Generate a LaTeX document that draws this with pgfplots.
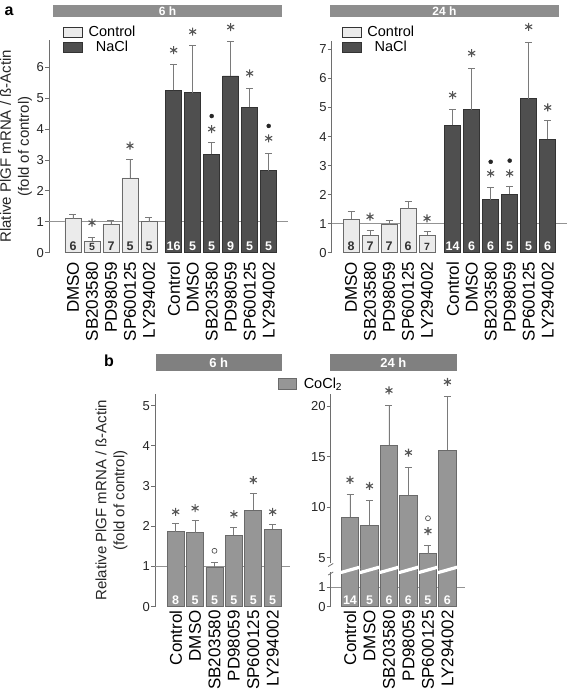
\documentclass[border=0pt]{standalone}
\usepackage{pgfplots}
\pgfplotsset{compat=1.18}
\usepackage{fontspec}
\setmainfont{Liberation Sans}
\definecolor{ctrl}{HTML}{EBEBEB}
\definecolor{ctrlb}{HTML}{6A6A6A}
\definecolor{nacl}{HTML}{4F4F4F}
\definecolor{naclb}{HTML}{333333}
\definecolor{cocl}{HTML}{969696}
\definecolor{coclb}{HTML}{6A6A6A}
\definecolor{hdra}{HTML}{8E8E8E}
\definecolor{hdrb}{HTML}{808080}
\definecolor{axc}{HTML}{6E6E6E}
\definecolor{errc}{HTML}{7A7A7A}
\definecolor{astc}{HTML}{555555}
\newcommand{\fs}[1]{\fontsize{#1}{#1}\selectfont}
\pgfplotsset{
  base/.style={
    scale only axis, clip=false, anchor=south west,
    axis lines*=left,
    x axis line style={draw=none},
    y axis line style={draw=axc, line width=0.8pt},
    xtick style={draw=none},
    ytick style={draw=axc, line width=0.8pt},
    ytick align=outside, major tick length=4pt,
    /pgf/number format/assume math mode=true,
    yticklabel style={font=\fs{13}, text=black!85, inner sep=1pt},
    xticklabel style={font=\fs{17}, rotate=90, anchor=east, inner sep=0pt, text=black},
    xticklabel shift=9pt,
    ymin=0,
    ylabel style={anchor=center, align=center, font=\fontsize{15}{18}\selectfont, text=black!85},
    legend style={draw=none, fill=none, anchor=north west, font=\fs{14.5}, inner sep=0pt,
      row sep=2pt, nodes={inner ysep=0.5pt, inner xsep=1pt}},
  },
  refline/.style={draw=gray!85, line width=0.8pt, forget plot},
  bars/.style={ybar, bar shift=0pt, forget plot, line width=0.7pt,
    error bars/y dir=plus, error bars/y explicit,
    error bars/error bar style={errc, line width=0.8pt},
    error bars/error mark options={rotate=90, errc, mark size=3.5pt, line width=0.8pt}},
  asts/.style={only marks, mark=asterisk, mark size=4pt, astc, mark options={line width=1.1pt}, forget plot},
  dots/.style={only marks, mark=*, mark size=2pt, black!85, forget plot},
  circs/.style={only marks, mark=o, mark size=2.5pt, astc, mark options={line width=0.7pt}, forget plot},
  nlab/.style={draw=none, mark=none, forget plot, point meta=explicit symbolic, nodes near coords,
    every node near coord/.append style={font=\bfseries\fs{12.5}, anchor=south, yshift=1.5pt, inner sep=0pt, text=#1}},
  nlabs/.style={draw=none, mark=none, forget plot, point meta=explicit symbolic, nodes near coords,
    every node near coord/.append style={font=\bfseries\fs{10.5}, anchor=south, yshift=1.5pt, inner sep=0pt, text=#1}},
}
\begin{document}
\begin{tikzpicture}[x=1pt,y=1pt]
\path[use as bounding box] (0pt,0pt) rectangle (567pt,694pt);
% headers
\fill[hdra] (53pt,677pt) rectangle (282pt,689pt);
\node[text=white, font=\bfseries\fs{12}] at (167.5pt,683pt) {6 h};
\fill[hdra] (330pt,677pt) rectangle (559pt,689pt);
\node[text=white, font=\bfseries\fs{12}] at (444.5pt,683pt) {24 h};
\fill[hdrb] (155.7pt,323.3pt) rectangle (281.7pt,340pt);
\node[text=white, font=\bfseries\fs{13}] at (218.7pt,331.6pt) {6 h};
\fill[hdrb] (330pt,323.3pt) rectangle (456.7pt,340pt);
\node[text=white, font=\bfseries\fs{13}] at (393.3pt,331.6pt) {24 h};
\node[font=\bfseries\fs{16}] at (9pt,683pt) {a};
\node[font=\bfseries\fs{16}] at (109pt,333pt) {b};

% ---------------- panel a, 6 h
\begin{axis}[base, at={(49pt,441.3pt)}, width=239pt, height=212.7pt,
  xmin=-1.263, xmax=11.316, ymax=6.88, ytick={0,1,2,3,4,5,6},
  xtick={0,1,2,3,4,5.3,6.3,7.3,8.3,9.3,10.3},
  xticklabels={DMSO,SB203580,PD98059,SP600125,LY294002,Control,DMSO,SB203580,PD98059,SP600125,LY294002},
  ylabel={Rlative PlGF mRNA / ß-Actin\\(fold of control)},
  ylabel style={at={(axis description cs:-0.138,0.5)}},
  legend style={at={(0.0586,1.07)}},
]
\addlegendimage{legend image code/.code={\draw[fill=ctrl,draw=black!80,line width=0.6pt] (0pt,-5pt) rectangle (19pt,5pt); \path (24pt,0pt);}}
\addlegendentry{Control}
\addlegendimage{legend image code/.code={\draw[fill=nacl,draw=black!80,line width=0.6pt] (0pt,-5pt) rectangle (19pt,5pt); \path (24pt,0pt);}}
\addlegendentry{NaCl}
\addplot[refline] coordinates {(-1.263,1) (11.316,1)};
\addplot[bars, fill=ctrl, draw=ctrlb, bar width=16pt] table[x=x, y=y, y error=e] {
x y e
0 1.10 0.13
1 0.38 0.12
2 0.93 0.12
3 2.42 0.61
4 1.00 0.15
};
\addplot[bars, fill=nacl, draw=naclb, bar width=16pt] table[x=x, y=y, y error=e] {
x y e
5.3 5.25 0.83
6.3 5.18 1.52
7.3 3.18 0.39
8.3 5.72 1.10
9.3 4.70 0.63
10.3 2.65 0.57
};
\addplot[asts] coordinates {(1,0.97) (3,3.46) (5.3,6.55) (6.3,7.15) (7.3,4.0) (8.3,7.3) (9.3,5.8) (10.3,3.7)};
\addplot[dots] coordinates {(7.3,4.42) (10.3,4.1)};
\addplot[nlab=black!80] coordinates {(0,0)[6] (2,0)[7] (3,0)[5] (4,0)[5]};
\addplot[nlabs=black!80] coordinates {(1,0)[5]};
\addplot[nlab=white] coordinates {(5.3,0)[16] (6.3,0)[5] (7.3,0)[5] (8.3,0)[9] (9.3,0)[5] (10.3,0)[5]};
\end{axis}

% ---------------- panel a, 24 h
\begin{axis}[base, at={(331.7pt,441.3pt)}, width=235pt, height=212pt,
  xmin=-1.016, xmax=11.35, ymax=7.3, ytick={0,1,2,3,4,5,6,7},
  xtick={0,1,2,3,4,5.35,6.35,7.35,8.35,9.35,10.35},
  xticklabels={DMSO,SB203580,PD98059,SP600125,LY294002,Control,DMSO,SB203580,PD98059,SP600125,LY294002},
  legend style={at={(0.0426,1.073)}},
]
\addlegendimage{legend image code/.code={\draw[fill=ctrl,draw=black!80,line width=0.6pt] (0pt,-5pt) rectangle (19pt,5pt); \path (24pt,0pt);}}
\addlegendentry{Control}
\addlegendimage{legend image code/.code={\draw[fill=nacl,draw=black!80,line width=0.6pt] (0pt,-5pt) rectangle (19pt,5pt); \path (24pt,0pt);}}
\addlegendentry{NaCl}
\addplot[refline] coordinates {(-1.016,1) (11.35,1)};
\addplot[bars, fill=ctrl, draw=ctrlb, bar width=16pt] table[x=x, y=y, y error=e] {
x y e
0 1.15 0.28
1 0.60 0.18
2 0.96 0.14
3 1.52 0.23
4 0.60 0.12
};
\addplot[bars, fill=nacl, draw=naclb, bar width=16pt] table[x=x, y=y, y error=e] {
x y e
5.35 4.38 0.54
6.35 4.93 1.42
7.35 1.82 0.43
8.35 2.02 0.28
9.35 5.30 1.94
10.35 3.90 0.65
};
\addplot[asts] coordinates {(1,1.24) (4,1.18) (5.35,5.43) (6.35,6.87) (7.35,2.73) (8.35,2.73) (9.35,7.78) (10.35,5.0)};
\addplot[dots] coordinates {(7.35,3.13) (8.35,3.17)};
\addplot[nlab=black!80] coordinates {(0,0)[8] (1,0)[7] (2,0)[7] (3,0)[6]};
\addplot[nlabs=black!80] coordinates {(4,0)[7]};
\addplot[nlab=white] coordinates {(5.35,0)[14] (6.35,0)[6] (7.35,0)[6] (8.35,0)[5] (9.35,0)[5] (10.35,0)[6]};
\end{axis}

% ---------------- panel b, 6 h
\begin{axis}[base, at={(155pt,87.3pt)}, width=135pt, height=212.7pt,
  xmin=-1.067, xmax=5.892, ymax=5.29, ytick={0,1,2,3,4,5},
  xtick={0,1,2,3,4,5}, xticklabel shift=3.5pt,
  xticklabels={Control,DMSO,SB203580,PD98059,SP600125,LY294002},
  ylabel={Relative PlGF mRNA / ß-Actin\\(fold of control)},
  ylabel style={at={(axis description cs:-0.322,0.5)}},
]
\addplot[refline] coordinates {(-1.067,1) (5.892,1)};
\addplot[bars, fill=cocl, draw=coclb, bar width=17pt] table[x=x, y=y, y error=e] {
x y e
0 1.87 0.19
1 1.84 0.30
2 0.98 0.12
3 1.78 0.20
4 2.40 0.42
5 1.92 0.13
};
\addplot[asts] coordinates {(0,2.36) (1,2.45) (3,2.3) (4,3.15) (5,2.36)};
\addplot[circs] coordinates {(2,1.39)};
\addplot[nlab=white] coordinates {(0,0)[8] (1,0)[5] (2,0)[5] (3,0)[5] (4,0)[5] (5,0)[5]};
\end{axis}

% ---------------- panel b, 24 h (broken axis)
\begin{axis}[base, at={(330.7pt,87.3pt)}, width=134.3pt, height=212.7pt,
  y coord trafo/.code={\pgfmathparse{#1<3 ? #1 : 2.487+0.5127*(#1-5)}},
  y coord inv trafo/.code={\pgfmathparse{#1<2.2 ? #1 : 5+(#1-2.487)/0.5127}},
  xmin=-0.99, xmax=5.9, ymax=21.2,
  ytick={0,1,5,10,15,20}, yticklabels={0,1,5,10,15,20},
  xtick={0,1,2,3,4,5}, xticklabel shift=3.5pt,
  xticklabels={Control,DMSO,SB203580,PD98059,SP600125,LY294002},
  legend style={at={(-0.392,1.08)}},
]
\addlegendimage{legend image code/.code={\draw[fill=cocl,draw=coclb,line width=0.6pt] (0pt,-5.5pt) rectangle (18pt,5.5pt); \path (24pt,0pt);}}
\addlegendentry{CoCl\textsubscript{2}}
\addplot[refline] coordinates {(-0.99,1) (5.9,1)};
% error values are given in data units; the upper segment is drawn at 0.5127 of the lower scale
\addplot[bars, fill=cocl, draw=coclb, bar width=17.5pt] table[x=x, y=y, y error expr=\thisrow{e}*0.5127] {
x y e
0 9.00 2.28
1 8.20 2.50
2 16.13 3.93
3 11.18 2.77
4 5.40 0.86
5 15.64 5.32
};
\addplot[white, line width=3.2pt, forget plot] coordinates {(-0.5,1.726) (0.5,2.004)};
\addplot[white, line width=3.2pt, forget plot] coordinates {(0.5,1.726) (1.5,2.004)};
\addplot[white, line width=3.2pt, forget plot] coordinates {(1.5,1.726) (2.5,2.004)};
\addplot[white, line width=3.2pt, forget plot] coordinates {(2.5,1.726) (3.5,2.004)};
\addplot[white, line width=3.2pt, forget plot] coordinates {(3.5,1.726) (4.5,2.004)};
\addplot[white, line width=3.2pt, forget plot] coordinates {(4.5,1.726) (5.5,2.004)};
\addplot[asts] coordinates {(0,12.7) (1,12.1) (2,21.55) (3,15.4) (4,7.64) (5,22.4)};
\addplot[circs] coordinates {(4,8.9)};
\addplot[nlab=white] coordinates {(0,0)[14] (1,0)[5] (2,0)[6] (3,0)[6] (4,0)[5] (5,0)[6]};
\end{axis}
% axis break marks
\fill[white] (328pt,121.5pt) rectangle (333.5pt,131pt);
\draw[axc, line width=0.8pt] (328.2pt,127.5pt) -- (333.2pt,130.5pt);
\draw[axc, line width=0.8pt] (328.2pt,119pt) -- (333.2pt,122pt);
\end{tikzpicture}
\end{document}
